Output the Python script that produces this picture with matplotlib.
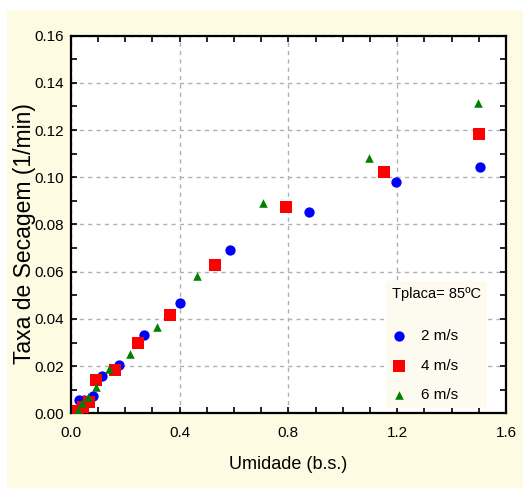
import matplotlib
matplotlib.use("Agg")
import matplotlib.pyplot as plt
from matplotlib.patches import Rectangle
from matplotlib.ticker import MultipleLocator, FormatStrFormatter

plt.rcParams['font.family'] = ["Liberation Sans", "DejaVu Sans"]

# Data
x_2ms = [1.505, 1.196, 0.875, 0.586, 0.403, 0.270, 0.176, 0.114, 0.082, 0.050, 0.029]
y_2ms = [0.1045, 0.0981, 0.0853, 0.0693, 0.0469, 0.0332, 0.0205, 0.0159, 0.0075, 0.0055, 0.0056]
x_4ms = [1.499, 1.152, 0.792, 0.531, 0.366, 0.246, 0.164, 0.094, 0.068, 0.046, 0.028]
y_4ms = [0.1183, 0.1024, 0.0873, 0.0628, 0.0417, 0.0298, 0.0182, 0.0140, 0.0049, 0.0028, 0.0011]
x_6ms = [1.496, 1.098, 0.708, 0.463, 0.318, 0.218, 0.142, 0.092, 0.065, 0.040, 0.025]
y_6ms = [0.1316, 0.1083, 0.0892, 0.0582, 0.0367, 0.0251, 0.0189, 0.0113, 0.0070, 0.0042, 0.0015]
labels = ["2 m/s", "4 m/s", "6 m/s"]
legend_title = "Tplaca= 85ºC"

fig = plt.figure(figsize=(5.23, 4.9), dpi=100)
fig.patch.set_facecolor("white")
bg = Rectangle((7/523, 0.005), 1 - 7/523, 1 - 10/490 - 0.005,
               transform=fig.transFigure, facecolor="#fdfbe2",
               edgecolor="none", zorder=-10)
fig.add_artist(bg)

ax = fig.add_axes([70.7/523, 1 - 413.3/490, (506 - 70.7)/523, (413.3 - 35.7)/490])
ax.set_facecolor("white")
ax.set_zorder(1)

ax.scatter(x_2ms, y_2ms, marker="o", s=55, color="#0000ff", label=labels[0], zorder=3, linewidths=0)
ax.scatter(x_4ms, y_4ms, marker="s", s=65, color="#ff0000", label=labels[1], zorder=3, linewidths=0)
ax.scatter(x_6ms, y_6ms, marker="^", s=38, color="#007f00", label=labels[2], zorder=3, linewidths=0)

ax.set_xlim(0, 1.6)
ax.set_ylim(0, 0.16)
ax.xaxis.set_major_locator(MultipleLocator(0.4))
ax.xaxis.set_minor_locator(MultipleLocator(0.1))
ax.yaxis.set_major_locator(MultipleLocator(0.02))
ax.yaxis.set_minor_locator(MultipleLocator(0.01))
ax.xaxis.set_major_formatter(FormatStrFormatter("%.1f"))
ax.yaxis.set_major_formatter(FormatStrFormatter("%.2f"))
ax.tick_params(which="both", direction="in", top=True, right=True, width=1.2, labelsize=11)
ax.tick_params(which="major", length=4)
ax.tick_params(which="minor", length=4)
ax.tick_params(axis="x", pad=9)
ax.tick_params(axis="y", pad=5)
for sp in ax.spines.values():
    sp.set_linewidth(1.6)
ax.grid(True, which="major", linestyle=(0, (3, 3)), color="#b0b0b0", linewidth=1)

ax.set_xlabel("Umidade (b.s.)", fontsize=13, labelpad=12)
ax.set_ylabel("Taxa de Secagem (1/min)", fontsize=16.5)
ax.yaxis.set_label_coords(-0.079, 0.475)

leg = ax.legend(title=legend_title, loc="lower right", bbox_to_anchor=(0.956, 0.013),
                frameon=True, fontsize=11, title_fontsize=10.5, handletextpad=0.9,
                handlelength=1.0, labelspacing=1.03, borderpad=0.4, markerscale=1.0,
                borderaxespad=0)
leg.get_frame().set_facecolor("#fdfaf0")
leg.get_frame().set_edgecolor("none")
leg.get_frame().set_alpha(1)
leg.get_frame().set_boxstyle("square", pad=0)
leg._legend_box.sep = 20
leg._legend_box.align = "left"

fig.savefig("out.png", dpi=100, facecolor=fig.get_facecolor())
